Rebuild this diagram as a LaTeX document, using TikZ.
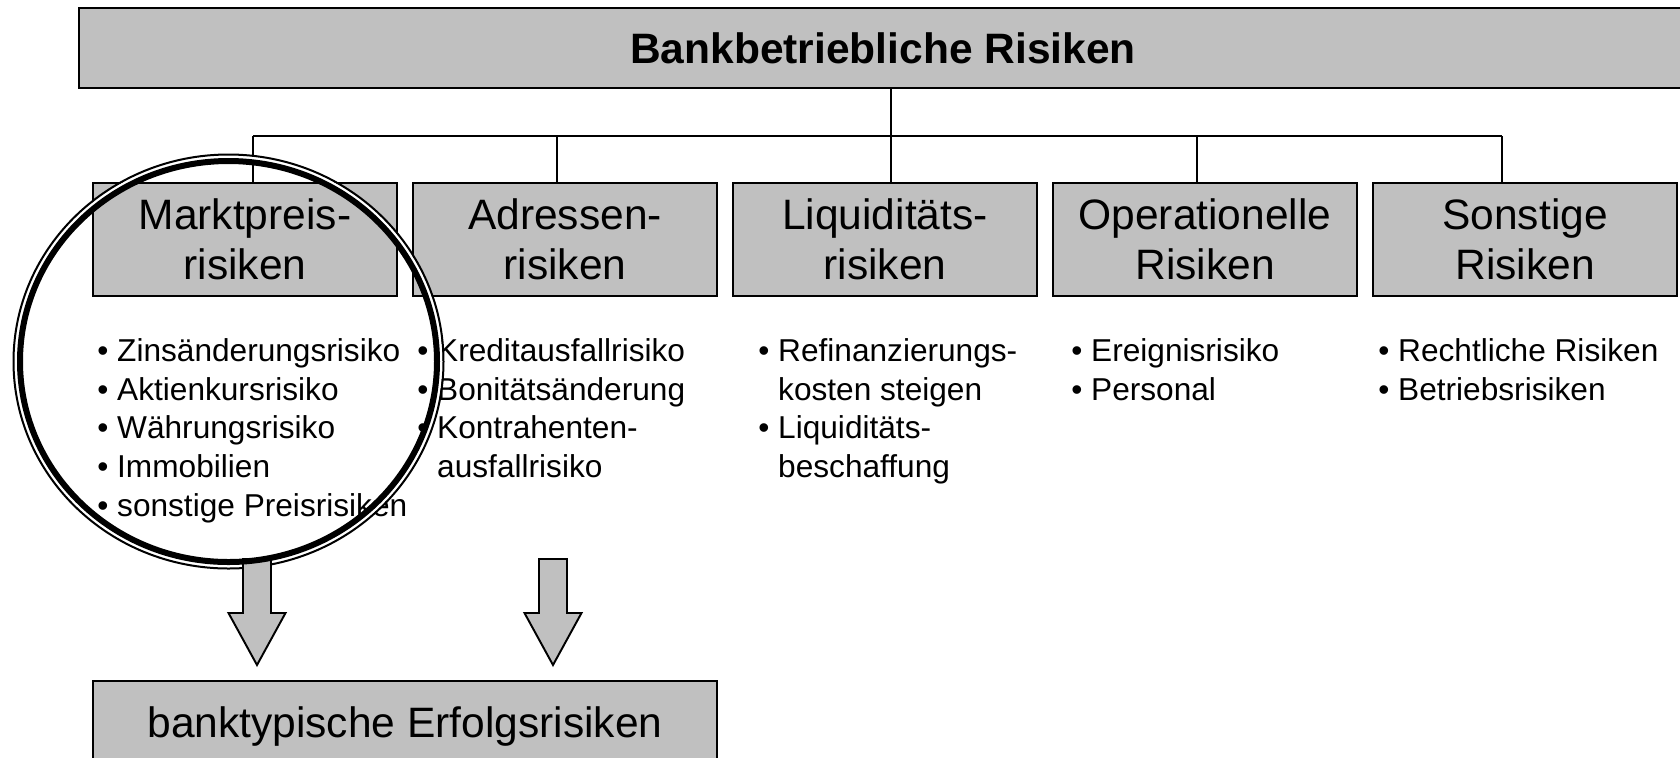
\documentclass[tikz,border=0pt]{standalone}
\usepackage{fontspec}
\setmainfont{Liberation Sans}
\usepackage{tikz}
\usetikzlibrary{positioning}
\definecolor{BoxGrau}{RGB}{192,192,192}

\begin{document}
\begin{tikzpicture}[
  grbox/.style={draw=black,fill=BoxGrau,line width=1.1pt,inner sep=0pt},
  kopfblk/.style={grbox,minimum width=32.16cm,minimum height=1.6cm,
                  font=\fontsize{24.2}{28.3}\selectfont\bfseries},
  risblk/.style={grbox,minimum width=6.08cm,minimum height=2.26cm,
                 align=center,font=\fontsize{24.2}{28.3}\selectfont},
  liste/.style={anchor=north west,align=left,inner sep=0pt,
                font=\fontsize{18}{22.1}\selectfont},
  linie/.style={line width=1.1pt},
  pfeil/.style={draw=black,fill=BoxGrau,line width=1.1pt,line join=miter},
]
\useasboundingbox (0,0) rectangle (33.6,-15.14);

\node[kopfblk] (kopf) at (17.66,-0.96) {Bankbetriebliche Risiken};

\node[risblk] (markt)  at (4.9,-4.79)  {Marktpreis-\\risiken};
\node[risblk] (adress) at (11.3,-4.79) {Adressen-\\risiken};
\node[risblk] (liqui)  at (17.7,-4.79) {Liquiditäts-\\risiken};
\node[risblk] (oprisk) at (24.1,-4.79) {Operationelle\\Risiken};
\node[risblk] (sonst)  at (30.5,-4.79) {Sonstige\\Risiken};

% Verbindungen
\coordinate (schiene) at (17.82,-2.72);
\draw[linie] (kopf.south -| schiene) -- (schiene);
\draw[linie] ([xshift=0.16cm]markt.north |- schiene) -- ([xshift=-0.46cm]sonst.north |- schiene);
\foreach \n/\dx in {markt/0.16,adress/-0.16,liqui/0.12,oprisk/-0.16,sonst/-0.46}
  \draw[linie] ([xshift=\dx cm]\n.north) -- ([xshift=\dx cm]\n.north |- schiene);

% Aufzaehlungen
\node[liste] (lmarkt) at (1.94,-6.76) {• Zinsänderungsrisiko\\• Aktienkursrisiko\\
  • Währungsrisiko\\• Immobilien\\• sonstige Preisrisiken};
\node[liste] (ladress) at (8.34,-6.76) {• Kreditausfallrisiko\\• Bonitätsänderung\\
  • Kontrahenten-\\\hphantom{•~}ausfallrisiko};
\node[liste] (lliqui) at (15.16,-6.76) {• Refinanzierungs-\\\hphantom{•~}kosten steigen\\
  • Liquiditäts-\\\hphantom{•~}beschaffung};
\node[liste] (loprisk) at (21.42,-6.76) {• Ereignisrisiko\\• Personal};
\node[liste] (lsonst) at (27.56,-6.76) {• Rechtliche Risiken\\• Betriebsrisiken};

\node[grbox,minimum width=12.48cm,minimum height=1.8cm,
      font=\fontsize{24.2}{28.3}\selectfont] (erfolg) at (8.1,-14.52)
      {banktypische Erfolgsrisiken};

% Kreis um Marktpreisrisiken
\draw[white,line width=0.06cm] (4.57,-7.23) ellipse [x radius=4.25cm, y radius=4.09cm];
\draw[line width=0.04cm] (4.57,-7.23) ellipse [x radius=4.3cm, y radius=4.14cm];

% Blockpfeile
\foreach \ax in {5.14,11.06}
  \draw[pfeil] (\ax-0.28,-11.18) -- (\ax+0.28,-11.18) -- (\ax+0.28,-12.26)
    -- (\ax+0.57,-12.26) -- (\ax,-13.3) -- (\ax-0.57,-12.26)
    -- (\ax-0.28,-12.26) -- cycle;

\draw[line width=0.12cm] (4.57,-7.23) ellipse [x radius=4.17cm, y radius=4.01cm];
\end{tikzpicture}
\end{document}
